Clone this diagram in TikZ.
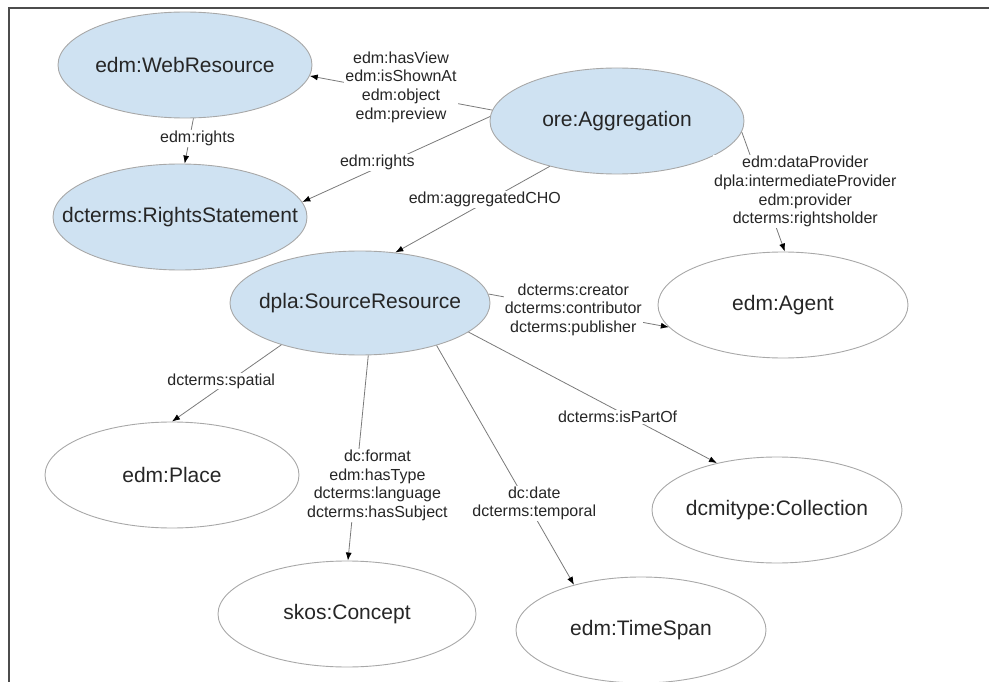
\documentclass[tikz,border=0pt]{standalone}
\usepackage{fontspec}
\setmainfont{Liberation Sans}
\usepackage{tikz}
\usetikzlibrary{shapes.geometric}
\usetikzlibrary{arrows.meta}
\usepackage{xcolor}
\definecolor{classblue}{HTML}{CFE2F2}
\definecolor{rimgray}{HTML}{A8A8A8}
\definecolor{linkgray}{HTML}{7A7A7A}
\definecolor{inkgray}{HTML}{262626}

\begin{document}
\begin{tikzpicture}[x=1pt, y=-1pt,
    classnode/.style={draw=rimgray, ellipse, line width=0.9pt, minimum width=254pt, minimum height=106pt, inner xsep=-40pt, inner ysep=0pt, text=inkgray, font=\fontsize{21}{25}\selectfont},
    coreclass/.style={classnode, fill=classblue},
    rangeclass/.style={classnode, fill=white},
    link/.style={draw=linkgray, line width=0.8pt, -{Latex[length=8pt, width=6pt, color=black]}},
    prop/.style={fill=white, inner sep=1pt, align=center, text=inkgray, font=\fontsize{16}{18.7}\selectfont}]
            \useasboundingbox (0,0) rectangle (989,682);
            % frame
            \draw[line width=1.6pt, black!70] (9,682) -- (9,8) -- (989,8);

            % classes
            \node[coreclass] (web) at (185,65) {edm:WebResource};
            \node[coreclass] (rights) at (180,217) {dcterms:RightsStatement};
            \node[coreclass] (agg) at (617,121) {ore:Aggregation};
            \node[coreclass, minimum width=260pt, minimum height=104pt] (src) at (360,303) {dpla:SourceResource};
            \node[rangeclass, minimum width=250pt] (agent) at (783,305) {edm:Agent};
            \node[rangeclass] (place) at (172,475) {edm:Place};
            \node[rangeclass, minimum width=258pt] (concept) at (347,614) {skos:Concept};
            \node[rangeclass, minimum width=250pt] (coll) at (777,510) {dcmitype:Collection};
            \node[rangeclass, minimum width=250pt] (time) at (641,630) {edm:TimeSpan};

            % properties
            \draw[link] (agg.175) -- node[prop, pos=0.5, yshift=6pt] {edm:hasView\\edm:isShownAt\\edm:object\\edm:preview} (web.355);
            \draw[link] (agg.178) -- node[prop, pos=0.6, yshift=5pt] {edm:rights} (rights.7);
            \draw[link] (web.279) -- node[prop, pos=0.45, xshift=8pt] {edm:rights} (rights.85);
            \draw[link] (agg.214) -- node[prop, pos=0.42, yshift=3pt] {edm:aggregatedCHO} (src.55);
            \draw[link] (agg.355) -- node[prop, pos=0.5, xshift=42pt] {edm:dataProvider\\dpla:intermediateProvider\\edm:provider\\dcterms:rightsholder} (agent.88);
            \draw[link] (src.4) -- node[prop, pos=0.47] {dcterms:creator\\dcterms:contributor\\dcterms:publisher} (agent.191);
            \draw[link] (src.208) -- node[prop, pos=0.55, yshift=6pt] {dcterms:spatial} (place.90);
            \draw[link] (src.279) -- node[prop, pos=0.634, xshift=22pt] {dc:format\\edm:hasType\\dcterms:language\\dcterms:hasSubject} (concept.89);
            \draw[link] (src.331) -- node[prop, pos=0.66, xshift=7pt] {dc:date\\dcterms:temporal} (time.146);
            \draw[link] (src.345) -- node[prop, pos=0.6, yshift=-6pt] {dcterms:isPartOf} (coll.142);
\end{tikzpicture}
\end{document}
